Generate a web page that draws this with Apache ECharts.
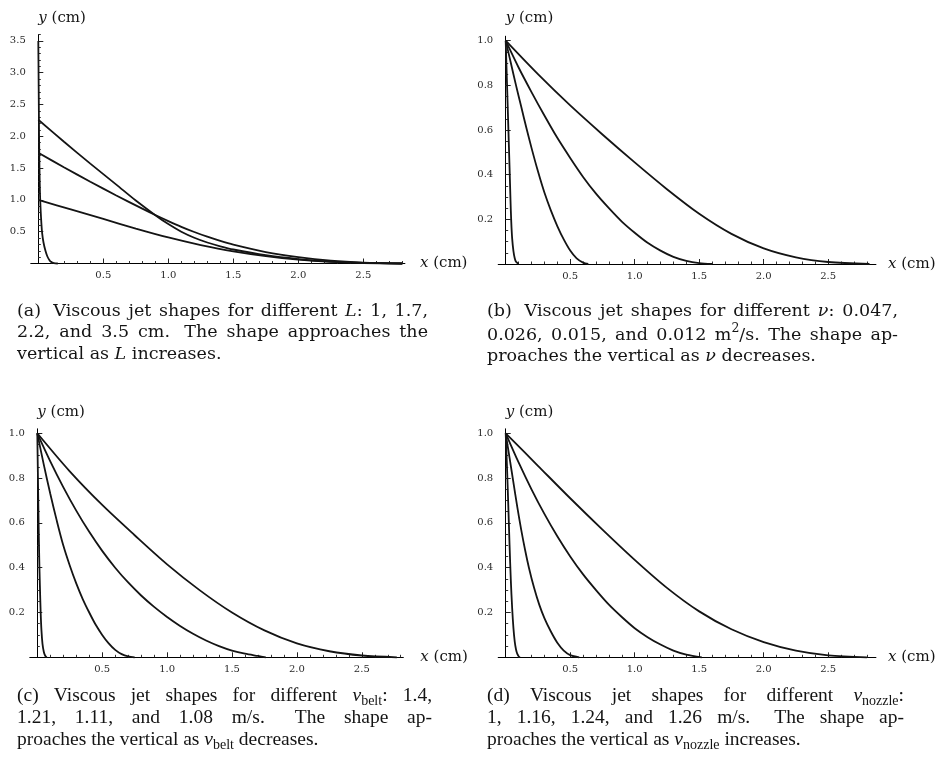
<!DOCTYPE html>
<html>
<head>
<meta charset="utf-8">
<script src="https://cdn.jsdelivr.net/npm/echarts@6/dist/echarts.min.js"></script>
<style>
  html, body { margin: 0; padding: 0; background: #ffffff; }
  #chart { width: 943px; height: 767px; }
</style>
</head>
<body>
<div id="chart"></div>
<script>
// ---------------- tick labels ----------------
const xTickLabels = [0.5, 1.0, 1.5, 2.0, 2.5];
const yTickLabelsA = [0.5, 1.0, 1.5, 2.0, 2.5, 3.0, 3.5];
const yTickLabelsUnit = [0.2, 0.4, 0.6, 0.8, 1.0];

// ---------------- (a) different L: 1, 1.7, 2.2, 3.5 cm ----------------
const aL1x  = [0, 0.25, 0.5, 0.75, 1.0, 1.25, 1.5, 1.75, 2.0, 2.25, 2.5, 2.8];
const aL1y  = [1.0, 0.85, 0.70, 0.55, 0.41, 0.29, 0.19, 0.115, 0.06, 0.025, 0.008, 0];
const aL17x = [0, 0.2, 0.4, 0.6, 0.8, 0.9, 1.0, 1.1, 1.2, 1.3, 1.4, 1.5, 1.75, 2.0, 2.25, 2.5, 2.8];
const aL17y = [1.74, 1.51, 1.286, 1.07, 0.862, 0.762, 0.667, 0.577, 0.495, 0.421, 0.355, 0.297, 0.18, 0.1, 0.045, 0.015, 0];
const aL22x = [0, 0.2, 0.4, 0.6, 0.75, 0.9, 1.0, 1.1, 1.2, 1.3, 1.4, 1.5, 1.75, 2.0, 2.25, 2.5, 2.8];
const aL22y = [2.26, 1.91, 1.57, 1.24, 0.99, 0.76, 0.62, 0.50, 0.405, 0.33, 0.27, 0.22, 0.13, 0.07, 0.03, 0.01, 0];
const aL35x = [0, 0.002, 0.004, 0.006, 0.009, 0.013, 0.018, 0.024, 0.03, 0.04, 0.055, 0.07, 0.085, 0.1, 0.12, 0.15];
const aL35y = [3.5, 3.0, 2.5, 2.0, 1.5, 1.1, 0.84, 0.62, 0.47, 0.33, 0.2, 0.11, 0.055, 0.022, 0.006, 0];

// ---------------- (b) different nu: 0.047, 0.026, 0.015, 0.012 m^2/s ----------------
const bN047x = [0, 0.25, 0.5, 0.75, 1.0, 1.25, 1.5, 1.75, 2.0, 2.25, 2.5, 2.82];
const bN047y = [1, 0.85, 0.71, 0.58, 0.455, 0.335, 0.225, 0.135, 0.07, 0.03, 0.009, 0];
const bN026x = [0, 0.1, 0.2, 0.3, 0.4, 0.5, 0.6, 0.7, 0.8, 0.9, 1.0, 1.1, 1.2, 1.3, 1.4, 1.5, 1.6];
const bN026y = [1, 0.88, 0.77, 0.665, 0.565, 0.475, 0.39, 0.315, 0.25, 0.19, 0.14, 0.095, 0.06, 0.032, 0.014, 0.004, 0];
const bN015x = [0, 0.04, 0.08, 0.12, 0.16, 0.2, 0.25, 0.3, 0.35, 0.4, 0.45, 0.5, 0.55, 0.6, 0.64];
const bN015y = [1, 0.9, 0.8, 0.705, 0.61, 0.52, 0.415, 0.32, 0.24, 0.17, 0.11, 0.06, 0.025, 0.006, 0];
const bN012x = [0, 0.01, 0.02, 0.03, 0.037, 0.043, 0.05, 0.06, 0.07, 0.08, 0.1];
const bN012y = [1, 0.81, 0.62, 0.43, 0.29, 0.19, 0.115, 0.058, 0.026, 0.01, 0];

// ---------------- (c) different v_belt: 1.4, 1.21, 1.11, 1.08 m/s ----------------
const cB140x = [0, 0.25, 0.5, 0.75, 1.0, 1.25, 1.5, 1.75, 2.0, 2.25, 2.5, 2.77];
const cB140y = [1, 0.83, 0.68, 0.545, 0.415, 0.3, 0.2, 0.12, 0.062, 0.027, 0.008, 0];
const cB121x = [0, 0.1, 0.2, 0.3, 0.4, 0.5, 0.6, 0.7, 0.8, 0.9, 1.0, 1.1, 1.2, 1.3, 1.4, 1.5, 1.6, 1.7, 1.76];
const cB121y = [1, 0.875, 0.76, 0.655, 0.56, 0.475, 0.4, 0.334, 0.276, 0.225, 0.18, 0.14, 0.105, 0.075, 0.05, 0.03, 0.016, 0.006, 0];
const cB111x = [0, 0.05, 0.1, 0.15, 0.2, 0.25, 0.3, 0.35, 0.4, 0.45, 0.5, 0.55, 0.6, 0.65, 0.7, 0.75];
const cB111y = [1, 0.86, 0.73, 0.61, 0.5, 0.41, 0.33, 0.26, 0.2, 0.145, 0.1, 0.062, 0.033, 0.014, 0.004, 0];
const cB108x = [0, 0.005, 0.01, 0.015, 0.02, 0.026, 0.032, 0.04, 0.05, 0.06, 0.072];
const cB108y = [1, 0.8, 0.6, 0.44, 0.32, 0.2, 0.12, 0.06, 0.025, 0.008, 0];

// ---------------- (d) different v_nozzle: 1, 1.16, 1.24, 1.26 m/s ----------------
const dN100x = [0, 0.25, 0.5, 0.75, 1.0, 1.25, 1.5, 1.75, 2.0, 2.25, 2.5, 2.8];
const dN100y = [1, 0.855, 0.71, 0.57, 0.435, 0.31, 0.205, 0.125, 0.068, 0.03, 0.009, 0];
const dN116x = [0, 0.1, 0.2, 0.3, 0.4, 0.5, 0.6, 0.7, 0.8, 0.9, 1.0, 1.1, 1.2, 1.3, 1.4, 1.52];
const dN116y = [1, 0.87, 0.75, 0.64, 0.54, 0.45, 0.37, 0.3, 0.235, 0.18, 0.13, 0.09, 0.057, 0.03, 0.012, 0];
const dN124x = [0, 0.03, 0.06, 0.09, 0.12, 0.15, 0.18, 0.22, 0.26, 0.3, 0.35, 0.4, 0.45, 0.5, 0.57];
const dN124y = [1, 0.89, 0.78, 0.67, 0.57, 0.48, 0.4, 0.31, 0.235, 0.175, 0.115, 0.065, 0.03, 0.01, 0];
const dN126x = [0, 0.01, 0.02, 0.03, 0.04, 0.05, 0.06, 0.07, 0.08, 0.09, 0.1, 0.11];
const dN126y = [1, 0.85, 0.68, 0.5, 0.34, 0.22, 0.13, 0.07, 0.035, 0.015, 0.005, 0];

// ---------------- captions ----------------
const captionA = [
  '(a)  Viscous jet shapes for different {i|L}: 1, 1.7,',
  '2.2, and 3.5 cm.  The shape approaches the',
  'vertical as {i|L} increases.'
];
const captionB = [
  '(b)  Viscous jet shapes for different {i|ν}: 0.047,',
  '0.026, 0.015, and 0.012 m{sup|2}/s. The shape ap-',
  'proaches the vertical as {i|ν} decreases.'
];
const captionC = [
  '(c) Viscous jet shapes for different {i|v}{sub|belt}: 1.4,',
  '1.21, 1.11, and 1.08 m/s.  The shape ap-',
  'proaches the vertical as {i|v}{sub|belt} decreases.'
];
const captionD = [
  '(d) Viscous jet shapes for different {i|v}{sub|nozzle}:',
  '1, 1.16, 1.24, and 1.26 m/s.  The shape ap-',
  'proaches the vertical as {i|v}{sub|nozzle} increases.'
];

// ---------------- layout ----------------
const INK = '#141414';
const LABEL_FONT = 'DejaVu Serif';
const zip = (xs, ys) => xs.map((x, i) => [x, ys[i]]);

// ox/oy: pixel position of the origin; sx/sy: pixels per cm
const panels = [
  { curves: [[aL1x, aL1y], [aL17x, aL17y], [aL22x, aL22y], [aL35x, aL35y]],
    ox: 38.3, oy: 263.5, sx: 130, sy: 63.6, xMin: -0.058, xMax: 2.82, yMax: 3.6,
    yMajor: yTickLabelsA, yMinorStep: 0.1, xNameGap: 15, yNameGap: 16 },
  { curves: [[bN047x, bN047y], [bN026x, bN026y], [bN015x, bN015y], [bN012x, bN012y]],
    ox: 505.7, oy: 264, sx: 129, sy: 223.3, xMin: -0.058, xMax: 2.87, yMax: 1.02,
    yMajor: yTickLabelsUnit, yMinorStep: 0.05, xNameGap: 12, yNameGap: 18 },
  { curves: [[cB140x, cB140y], [cB121x, cB121y], [cB111x, cB111y], [cB108x, cB108y]],
    ox: 37.3, oy: 657.3, sx: 129.8, sy: 224, xMin: -0.058, xMax: 2.82, yMax: 1.02,
    yMajor: yTickLabelsUnit, yMinorStep: 0.05, xNameGap: 17, yNameGap: 17 },
  { curves: [[dN100x, dN100y], [dN116x, dN116y], [dN124x, dN124y], [dN126x, dN126y]],
    ox: 505.7, oy: 657.3, sx: 129, sy: 224, xMin: -0.058, xMax: 2.87, yMax: 1.02,
    yMajor: yTickLabelsUnit, yMinorStep: 0.05, xNameGap: 12, yNameGap: 17 }
];

function steps(step, max) {
  const out = [];
  const n = Math.floor(max / step + 1e-6);
  for (let k = 1; k <= n; k++) out.push(+(k * step).toFixed(4));
  return out;
}

const nameStyle = {
  fontFamily: LABEL_FONT, fontSize: 15, color: INK,
  align: 'left', verticalAlign: 'middle',
  rich: { i: { fontFamily: LABEL_FONT, fontSize: 15, fontStyle: 'italic', color: INK } }
};
const tickLabelStyle = { fontFamily: LABEL_FONT, fontSize: 10, color: '#2a2a2a' };

const grids = [], xAxes = [], yAxes = [], series = [];
panels.forEach((p, g) => {
  grids.push({
    left: p.ox + p.xMin * p.sx, top: p.oy - p.yMax * p.sy,
    width: (p.xMax - p.xMin) * p.sx, height: p.yMax * p.sy,
    containLabel: false, outerBoundsMode: 'none'
  });
  // minor ticks + axis line + axis name
  xAxes.push({
    type: 'value', gridIndex: g, min: p.xMin, max: p.xMax, position: 'bottom',
    axisLine: { show: true, onZero: false, lineStyle: { color: '#000', width: 1 } },
    axisTick: { show: true, inside: true, length: 2.5, customValues: steps(0.1, p.xMax),
                lineStyle: { color: '#333', width: 1 } },
    axisLabel: { show: false }, splitLine: { show: false },
    name: '{i|x} (cm)', nameLocation: 'end', nameGap: p.xNameGap, nameTextStyle: nameStyle
  });
  // major ticks + labels
  xAxes.push({
    type: 'value', gridIndex: g, min: p.xMin, max: p.xMax, position: 'bottom',
    axisLine: { show: false, onZero: false },
    axisTick: { show: true, inside: true, length: 5, customValues: xTickLabels,
                lineStyle: { color: '#222', width: 1 } },
    axisLabel: { show: true, customValues: xTickLabels, margin: 7,
                 formatter: v => Number(v).toFixed(1), ...tickLabelStyle },
    splitLine: { show: false }
  });
  // y axes sit on x = 0
  yAxes.push({
    type: 'value', gridIndex: g, min: 0, max: p.yMax, position: 'left',
    axisLine: { show: true, onZero: true, onZeroAxisIndex: 2 * g, lineStyle: { color: '#000', width: 1 } },
    axisTick: { show: true, inside: true, length: 2.5, customValues: steps(p.yMinorStep, p.yMax),
                lineStyle: { color: '#333', width: 1 } },
    axisLabel: { show: false }, splitLine: { show: false },
    name: '{i|y} (cm)', nameLocation: 'end', nameGap: p.yNameGap, nameTextStyle: nameStyle
  });
  yAxes.push({
    type: 'value', gridIndex: g, min: 0, max: p.yMax, position: 'left',
    axisLine: { show: false, onZero: true, onZeroAxisIndex: 2 * g },
    axisTick: { show: true, inside: true, length: 5, customValues: p.yMajor,
                lineStyle: { color: '#222', width: 1 } },
    axisLabel: { show: true, customValues: p.yMajor, margin: 5,
                 formatter: v => Number(v).toFixed(1), ...tickLabelStyle },
    splitLine: { show: false }
  });
  p.curves.forEach(([xs, ys]) => {
    series.push({
      type: 'line', xAxisIndex: 2 * g, yAxisIndex: 2 * g,
      data: zip(xs, ys), showSymbol: false, smooth: 0.3, clip: false,
      lineStyle: { color: INK, width: 1.8 }, silent: true
    });
  });
});

// ---------------- justified captions ----------------
const measureCtx = document.createElement('canvas').getContext('2d');
function runFont(kind, st) {
  if (kind === 'i') return `italic ${st.size}px "${st.family}"`;
  if (kind === 'sub' || kind === 'sup') return `${st.small}px "${st.family}"`;
  return `${st.size}px "${st.family}"`;
}
function runWidth(text, font) { measureCtx.font = font; return measureCtx.measureText(text).width; }
function parseRuns(word) {
  const runs = [];
  const re = /\{(\w+)\|([^}]*)\}|([^{]+)/g;
  let m;
  while ((m = re.exec(word))) {
    if (m[3] !== undefined) runs.push({ kind: 'rm', text: m[3] });
    else runs.push({ kind: m[1], text: m[2] });
  }
  return runs;
}
function captionElements(lines, left, lineMiddles, width, st) {
  const els = [];
  lines.forEach((line, li) => {
    const parts = line.split(/( +)/);
    const words = [], weights = [];
    parts.forEach((part, k) => {
      if (k % 2 === 0) words.push(parseRuns(part));
      else weights.push(part.length > 1 ? 1.6 : 1);
    });
    words.forEach(runs => runs.forEach(r => { r.font = runFont(r.kind, st); r.w = runWidth(r.text, r.font); }));
    const wordW = words.map(runs => runs.reduce((s, r) => s + r.w, 0));
    const total = wordW.reduce((s, w) => s + w, 0);
    const weightSum = weights.reduce((s, w) => s + w, 0);
    const isLast = li === lines.length - 1;
    const unit = isLast ? runWidth(' ', runFont('rm', st)) : (width - total) / weightSum;
    let x = left;
    const y = lineMiddles[li];
    words.forEach((runs, wi) => {
      runs.forEach(r => {
        const dy = r.kind === 'sub' ? st.subDy : (r.kind === 'sup' ? st.supDy : 0);
        els.push({
          type: 'text', x: x, y: y + dy, silent: true,
          style: { text: r.text, font: r.font, fill: INK, align: 'left', verticalAlign: 'middle' }
        });
        x += r.w;
      });
      if (wi < weights.length) x += weights[wi] * unit;
    });
  });
  return els;
}

const topCaption = { family: 'DejaVu Serif', size: 17.5, small: 12.5, subDy: 5, supDy: -6.5 };
const bottomCaption = { family: 'Liberation Serif', size: 19.5, small: 14, subDy: 5, supDy: -7 };

const graphics = [].concat(
  captionElements(captionA, 17, [311, 332.7, 354], 411, topCaption),
  captionElements(captionB, 487, [311, 335, 356.5], 411, topCaption),
  captionElements(captionC, 17, [696, 718, 740], 415, bottomCaption),
  captionElements(captionD, 487, [696, 718, 740], 417, bottomCaption)
);

const chart = echarts.init(document.getElementById('chart'), null, { renderer: 'canvas' });
chart.setOption({
  backgroundColor: '#ffffff',
  animation: false,
  grid: grids,
  xAxis: xAxes,
  yAxis: yAxes,
  series: series,
  graphic: graphics
});
</script>
</body>
</html>
